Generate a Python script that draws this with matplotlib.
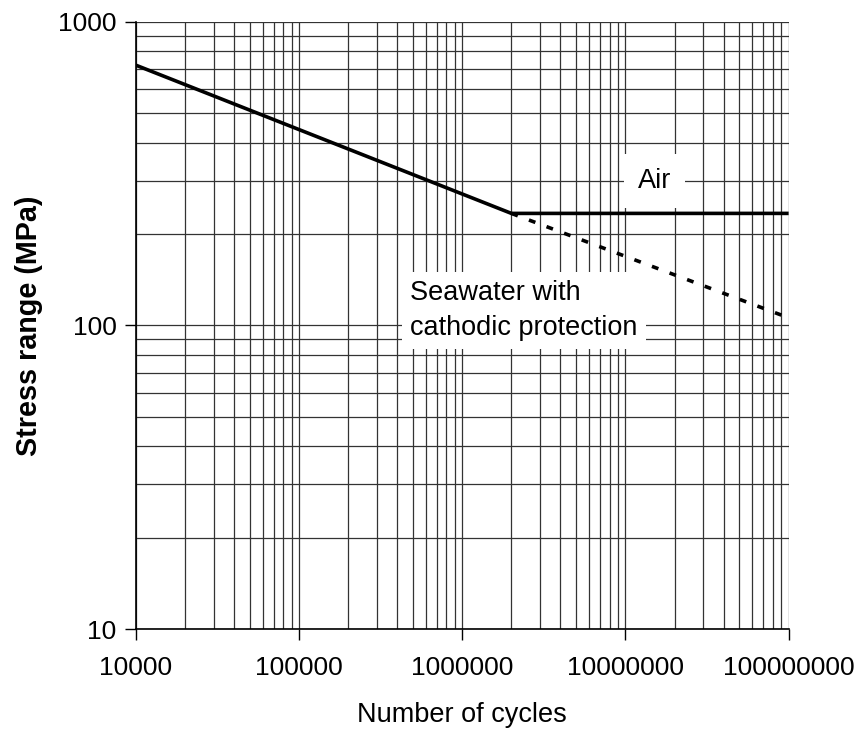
import matplotlib
matplotlib.use("Agg")
import matplotlib.pyplot as plt
from matplotlib.ticker import FixedLocator, LogLocator, NullFormatter

plt.rcParams["font.family"] = ["Liberation Sans", "DejaVu Sans"]

# S-N curve values
air_cycles = [1e4, 2e6, 1e8]
air_stress = [720, 234, 234]
sea_cycles = [2e6, 1e8]
sea_stress = [234, 106]

x_ticks = [1e4, 1e5, 1e6, 1e7, 1e8]
x_labels = ["10000", "100000", "1000000", "10000000", "100000000"]
y_ticks = [10, 100, 1000]
y_labels = ["10", "100", "1000"]

fig = plt.figure(figsize=(8.6, 7.29), dpi=100)
ax = fig.add_axes([0.158, 0.137, 0.759, 0.833])

ax.set_xscale("log")
ax.set_yscale("log")
ax.set_xlim(1e4, 1e8)
ax.set_ylim(10, 1000)

ax.xaxis.set_major_locator(FixedLocator(x_ticks))
ax.set_xticklabels(x_labels)
ax.yaxis.set_major_locator(FixedLocator(y_ticks))
ax.set_yticklabels(y_labels)
ax.xaxis.set_minor_locator(LogLocator(base=10, subs=range(2, 10)))
ax.yaxis.set_minor_locator(LogLocator(base=10, subs=range(2, 10)))
ax.xaxis.set_minor_formatter(NullFormatter())
ax.yaxis.set_minor_formatter(NullFormatter())

ax.grid(True, which="both", color="#333333", linewidth=0.9)
ax.set_axisbelow(True)
ax.tick_params(which="major", direction="out", length=8, width=1,
               labelsize=19, pad=11)
ax.tick_params(axis="y", which="major", pad=6)
ax.tick_params(which="minor", length=0)

for side in ["top", "right"]:
    ax.spines[side].set_visible(False)
for side in ["left", "bottom"]:
    ax.spines[side].set_linewidth(1.2)
    ax.spines[side].set_color("black")

ax.plot(air_cycles, air_stress, color="black", linewidth=2.6,
        solid_capstyle="butt", zorder=3)
ax.plot(sea_cycles, sea_stress, color="black", linewidth=2.6,
        linestyle=(0, (1.9, 3.3)), zorder=3)

ax.text(1.51e7, 299, "Air", fontsize=19.5, ha="center", va="center",
        bbox=dict(facecolor="white", edgecolor="none", pad=10), zorder=4)
ax.text(4.8e5, 112, "Seawater with\ncathodic protection", fontsize=19.5,
        ha="left", va="center", linespacing=1.42,
        bbox=dict(facecolor="white", edgecolor="none", pad=6), zorder=4)

ax.set_xlabel("Number of cycles", fontsize=19.5, labelpad=16)
ax.set_ylabel("Stress range (MPa)", fontsize=20.7, fontweight="bold",
              labelpad=11)

fig.savefig("out.png", dpi=100)
